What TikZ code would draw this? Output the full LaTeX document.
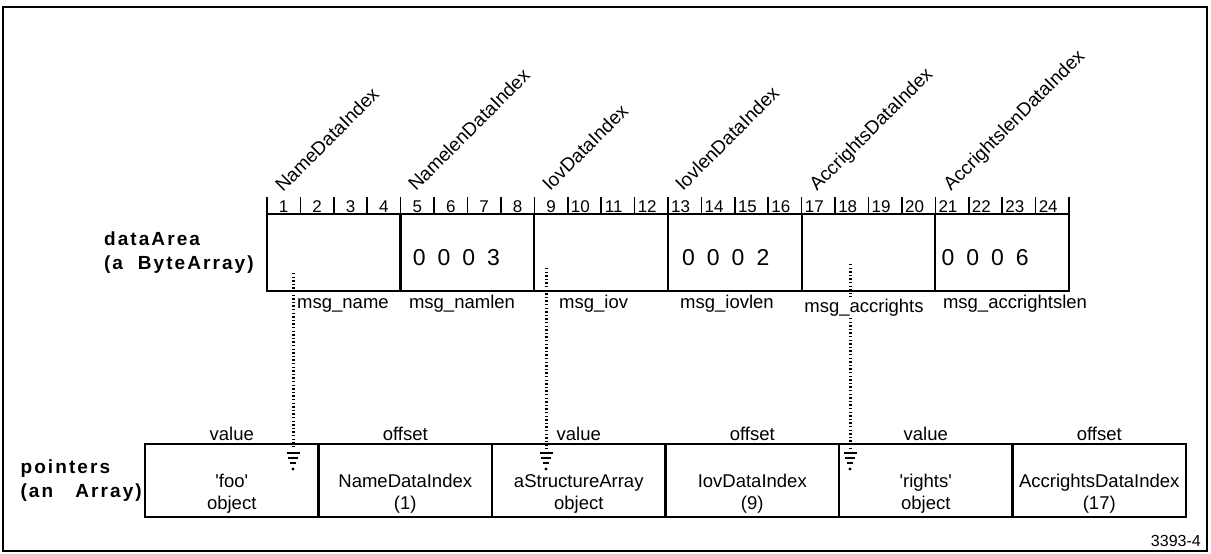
\documentclass[tikz,border=0pt]{standalone}
\usepackage{fontspec}
\setmainfont{Liberation Sans}
\newfontfamily\widefont[LetterSpace=11]{Liberation Sans}
\usetikzlibrary{positioning}

\tikzset{
  cell/.style    = {draw, line width=2.3pt, outer sep=0pt, inner sep=0pt,
                    minimum width=133.67pt, minimum height=77pt},
  slot/.style    = {draw, line width=2.3pt, outer sep=0pt, inner sep=0pt,
                    minimum width=173.5pt, minimum height=73pt},
  txt/.style     = {font=\fontsize{18.5}{22}\selectfont, inner sep=0pt},
  stack/.style   = {txt, align=center},
  zeros/.style   = {font=\fontsize{23}{26}\selectfont, inner sep=0pt, anchor=base west},
  field/.style   = {txt, anchor=base},
  index/.style   = {font=\fontsize{19}{22}\selectfont, inner sep=0pt, rotate=45, anchor=base west},
  bytenum/.style = {font=\fontsize{17}{20}\selectfont, inner sep=0pt, anchor=base},
  hdr/.style     = {txt, anchor=base},
  title/.style   = {font=\widefont\bfseries\fontsize{19}{24}\selectfont,
                    align=left, inner sep=0pt},
  ptr/.style     = {line width=3pt, dash pattern=on 1.4pt off 2.2pt},
  gnd/.pic       = {
    \draw[line width=2pt] (-6.5,4) -- (6.5,4);
    \draw[line width=2pt] (-5,9) -- (5,9);
    \draw[line width=2pt] (-3,14) -- (3,14);
    \fill (0,20) circle (1.6);
  }
}

\begin{document}
\begin{tikzpicture}[x=1pt, y=-1pt]
  \useasboundingbox (0,0) rectangle (1211,554);
  \draw[line width=2pt] (2.5,7) rectangle (1207,550.5);

  % dataArea
  \node[cell]                 (t1) at (333.8,252.5) {};
  \node[cell, right=0pt of t1] (t2) {};
  \node[cell, right=0pt of t2] (t3) {};
  \node[cell, right=0pt of t3] (t4) {};
  \node[cell, right=0pt of t4] (t5) {};
  \node[cell, right=0pt of t5] (t6) {};
  \node[title, left=13pt of t1] (area) {dataArea\\(a\ \ ByteArray)};

  \foreach \i in {0,...,24}
    \draw[line width=1.6pt] (267+33.417*\i,197) -- (267+33.417*\i,213);
  \foreach \i in {1,...,24}{
    \pgfmathsetmacro{\nx}{\i<10 ? 250.3+33.417*\i : 246.2+33.417*\i}
    \node[bytenum] (n\i) at (\nx,212) {\i};
  }

  \node[index] (ix1) at (283,193) {NameDataIndex};
  \node[index] (ix2) at (416,192) {NamelenDataIndex};
  \node[index] (ix3) at (550,192) {IovDataIndex};
  \node[index] (ix4) at (683,192) {IovlenDataIndex};
  \node[index] (ix5) at (817,192) {AccrightsDataIndex};
  \node[index] (ix6) at (951,192) {AccrightslenDataIndex};

  \node[zeros] (z2) at ([xshift=12pt, yshift=-13pt]t2.west) {0\hspace{12pt}0\hspace{12pt}0\hspace{12pt}3};
  \node[zeros] (z4) at ([xshift=14pt, yshift=-13pt]t4.west) {0\hspace{12pt}0\hspace{12pt}0\hspace{12pt}2};
  \node[zeros] (z6) at ([xshift=6pt,  yshift=-13pt]t6.west) {0\hspace{12pt}0\hspace{12pt}0\hspace{12pt}6};

  % pointers
  \node[slot]                 (p1) at (231.75,480.5) {};
  \node[slot, right=0pt of p1] (p2) {};
  \node[slot, right=0pt of p2] (p3) {};
  \node[slot, right=0pt of p3] (p4) {};
  \node[slot, right=0pt of p4] (p5) {};
  \node[slot, right=0pt of p5] (p6) {};
  \node[title, left=3pt of p1] (ptrs) {pointers\\(an\ \ \ Array)};

  \node[hdr] (h1) at ([yshift=4pt]p1.north) {value};
  \node[hdr] (h2) at ([yshift=4pt]p2.north) {offset};
  \node[hdr] (h3) at ([yshift=4pt]p3.north) {value};
  \node[hdr] (h4) at ([yshift=4pt]p4.north) {offset};
  \node[hdr] (h5) at ([yshift=4pt]p5.north) {value};
  \node[hdr] (h6) at ([yshift=4pt]p6.north) {offset};

  \node[stack] (c1) at ([yshift=-13.5pt]p1.center) {\textquotesingle foo\textquotesingle\\object};
  \node[stack] (c2) at ([yshift=-13.5pt]p2.center) {NameDataIndex\\(1)};
  \node[stack] (c3) at ([yshift=-13.5pt]p3.center) {aStructureArray\\object};
  \node[stack] (c4) at ([yshift=-13.5pt]p4.center) {IovDataIndex\\(9)};
  \node[stack] (c5) at ([yshift=-13.5pt]p5.center) {\textquotesingle rights\textquotesingle\\object};
  \node[stack] (c6) at ([yshift=-13.5pt]p6.center) {AccrightsDataIndex\\(17)};

  % fields and pointers between them
  \coordinate (s1) at (293,273);  \coordinate (e1) at (293,449);
  \coordinate (s2) at (546,268);  \coordinate (e2) at (546,449);
  \coordinate (s3) at (850,264);  \coordinate (e3) at (850,449);
  \draw[ptr] (s1) -- (e1);  \pic at (e1) {gnd};
  \draw[ptr] (s2) -- (e2);  \pic at (e2) {gnd};
  \draw[ptr] (s3) -- (e3);  \pic at (e3) {gnd};

  \node[field, anchor=base west] (f1) at (297,308) {msg\_name};
  \node[field]                   (f2) at (462,308) {msg\_namlen};
  \node[field, anchor=base west] (f3) at (559,308) {msg\_iov};
  \node[field]                   (f4) at (727,308) {msg\_iovlen};
  \node[field, fill=white, inner sep=1.5pt] (f5) at (864,312) {msg\_accrights};
  \node[field]                   (f6) at (1015,308) {msg\_accrightslen};

  \node[font=\fontsize{16}{18}\selectfont, anchor=base east, inner sep=0pt] (fig) at (1201,546) {3393-4};
\end{tikzpicture}
\end{document}
